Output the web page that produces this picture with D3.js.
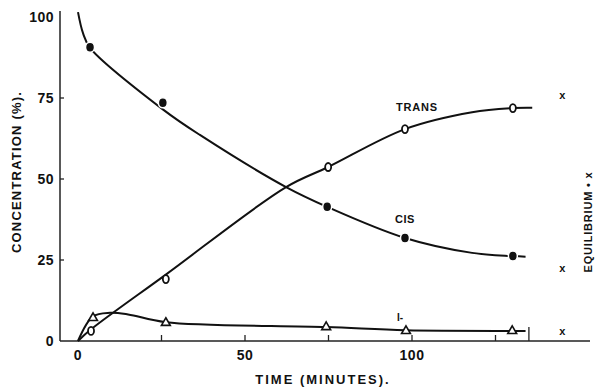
<!DOCTYPE html>
<html>
<head>
<meta charset="utf-8">
<script src="https://cdn.jsdelivr.net/npm/d3@7"></script>
<style>
  body { margin: 0; background: #fff; }
  svg { display: block; }
  text { font-family: "Liberation Sans", Arial, sans-serif; font-weight: bold; fill: #111; }
</style>
</head>
<body>
<svg id="chart" width="596" height="389"></svg>
<script>
// measured points (minutes, %)
const cisT   = [3.6, 25.4, 74.6, 97.9, 130.2];
const cisV   = [90.7, 73.5, 41.4, 31.8, 26.2];
const transT = [3.9, 26.3, 74.9, 97.9, 130.2];
const transV = [3.1, 19.1, 53.7, 65.4, 71.9];
const isoT   = [4.5, 26.3, 74.3, 98.2, 130];
const isoV   = [7.1, 5.6, 4.3, 3.1, 3.1];
const equilT = 145;
const equilV = [76, 22.5, 3.1];

// hand drawn curves through the points
const cisCurve   = [[0, 101.5], [1.5, 95], [3.6, 90.5], [25.4, 71.5], [36.5, 63.6], [62.3, 47.5], [74.6, 41.4], [97.9, 31.8], [118, 27.2], [130.2, 26.2], [134, 26]];
const transCurve = [[0, 0], [3.9, 3.6], [26.3, 20.5], [62.3, 47.5], [74.9, 53.7], [97.9, 65.4], [118, 70.6], [130.2, 71.9], [136, 72]];
const isoCurve   = [[0, 0], [4.5, 7.6], [9.6, 8.7], [15, 8.2], [26.3, 5.8], [74.3, 4.3], [98.2, 3.3], [130, 3.1], [134, 3.1]];

const xTicks = [0, 50, 100];
const xMinor = [25, 75, 125, 135];
const yTicks = [0, 25, 50, 75, 100];

const svg = d3.select("#chart");
const x = d3.scaleLinear().domain([0, 100]).range([78, 412]);
const y = d3.scaleLinear().domain([0, 100]).range([341, 17]);

// axes by hand, the old plot has inward ticks
svg.append("line").attr("x1", 60).attr("x2", 60).attr("y1", 11).attr("y2", y(0))
  .attr("stroke", "#222").attr("stroke-width", 1.5);
svg.append("line").attr("x1", 60).attr("x2", 590).attr("y1", y(0)).attr("y2", y(0))
  .attr("stroke", "#222").attr("stroke-width", 1.5);

svg.selectAll(".yt").data(yTicks.slice(1, 4)).join("line")
  .attr("x1", 60).attr("x2", 64).attr("y1", d => y(d)).attr("y2", d => y(d))
  .attr("stroke", "#222").attr("stroke-width", 1.3);
svg.selectAll(".xt").data(xTicks.slice(1).concat(xMinor)).join("line")
  .attr("x1", d => x(d)).attr("x2", d => x(d))
  .attr("y1", y(0)).attr("y2", d => d == 135 ? y(0) - 14 : y(0) - 6)
  .attr("stroke", "#222").attr("stroke-width", 1.3);

svg.selectAll(".yl").data(yTicks).join("text")
  .attr("x", 54).attr("y", d => y(d) + 5)
  .attr("text-anchor", "end").attr("font-size", 14).attr("letter-spacing", 0.5)
  .text(d => d);
svg.selectAll(".xl").data(xTicks).join("text")
  .attr("x", d => x(d)).attr("y", 360)
  .attr("text-anchor", "middle").attr("font-size", 14).attr("letter-spacing", 0.5)
  .text(d => d);

svg.append("text").attr("x", 323).attr("y", 384).attr("text-anchor", "middle")
  .attr("font-size", 13).attr("letter-spacing", 2).text("TIME (MINUTES).");
svg.append("text").attr("transform", "translate(21,172) rotate(-90)")
  .attr("text-anchor", "middle").attr("font-size", 13).attr("letter-spacing", 1.2)
  .text("CONCENTRATION (%).");
svg.append("text").attr("transform", "translate(592,222) rotate(-90)")
  .attr("text-anchor", "middle").attr("font-size", 11).attr("letter-spacing", 0.8)
  .text("EQUILIBRIUM • x");

// curves
const line = d3.line().x(d => x(d[0])).y(d => y(d[1])).curve(d3.curveCatmullRom.alpha(0.5));
[cisCurve, transCurve, isoCurve].forEach(c => {
  svg.append("path").attr("d", line(c)).attr("fill", "none")
    .attr("stroke", "#111").attr("stroke-width", 2);
});

// markers
svg.selectAll(".cis").data(cisT).join("ellipse")
  .attr("cx", d => x(d)).attr("cy", (d, i) => y(cisV[i]))
  .attr("rx", 4.5).attr("ry", 5).attr("fill", "#111")
  .attr("stroke", "#fff").attr("stroke-width", 1.5);
svg.selectAll(".trans").data(transT).join("ellipse")
  .attr("cx", d => x(d)).attr("cy", (d, i) => y(transV[i]))
  .attr("rx", 3).attr("ry", 4).attr("fill", "#fff")
  .attr("stroke", "#111").attr("stroke-width", 1.8);
svg.selectAll(".iso").data(isoT).join("path")
  .attr("transform", (d, i) => `translate(${x(d)},${y(isoV[i])})`)
  .attr("d", d3.symbol(d3.symbolTriangle, 34))
  .attr("fill", "#fff").attr("stroke", "#111").attr("stroke-width", 1.6);

svg.selectAll(".eq").data(equilV).join("text")
  .attr("x", x(equilT)).attr("y", d => y(d) + 4)
  .attr("text-anchor", "middle").attr("font-size", 11)
  .text("x");

// series labels
svg.append("text").attr("x", 396).attr("y", 111).attr("font-size", 11).attr("letter-spacing", 0.8).text("TRANS");
svg.append("text").attr("x", 395).attr("y", 223).attr("font-size", 11).attr("letter-spacing", 0.5).text("CIS");
svg.append("text").attr("x", 397).attr("y", 321).attr("font-size", 10).text("I-");
</script>
</body>
</html>
